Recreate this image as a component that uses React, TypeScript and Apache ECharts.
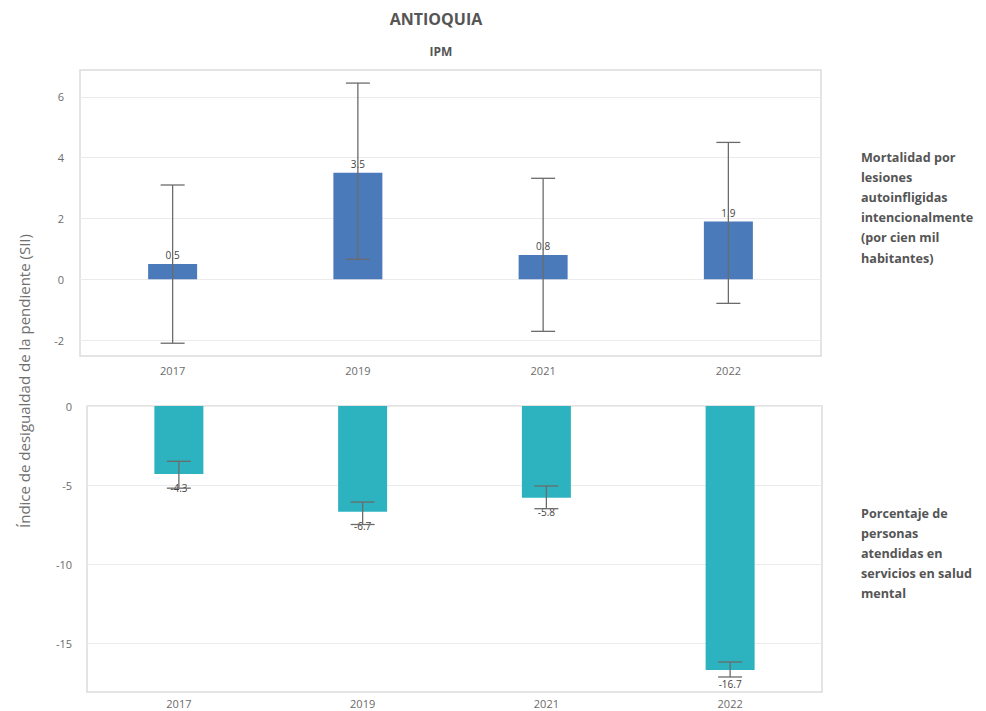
import React, { useEffect, useRef } from "react";
import * as echarts from "echarts";

const years = ["2017", "2019", "2021", "2022"];

const mortValues = [0.5, 3.5, 0.8, 1.9];
const mortLow = [-2.1, 0.66, -1.71, -0.79];
const mortHigh = [3.1, 6.45, 3.32, 4.5];

const saludValues = [-4.3, -6.7, -5.8, -16.7];
const saludLow = [-5.2, -7.5, -6.5, -17.15];
const saludHigh = [-3.5, -6.08, -5.06, -16.2];

const topTicks = [-2, 0, 2, 4, 6];
const bottomTicks = [-15, -10, -5, 0];

const title = "ANTIOQUIA";
const subtitle = "IPM";
const yTitle = "Índice de desigualdad de la pendiente (SII)";
const topLabel = "Mortalidad por\nlesiones\nautoinfligidas\nintencionalmente\n(por cien mil\nhabitantes)";
const bottomLabel = "Porcentaje de\npersonas\natendidas en\nservicios en salud\nmental";

const FONT = "'Open Sans', 'Noto Sans', sans-serif";

function errorSeries(idx: number, low: number[], high: number[]) {
  return {
    type: "custom",
    xAxisIndex: idx,
    yAxisIndex: idx,
    z: 10,
    data: years.map((_, i) => [i, low[i], high[i]]),
    renderItem: (params: any, api: any) => {
      const x = api.value(0);
      const lo = api.coord([x, api.value(1)]);
      const hi = api.coord([x, api.value(2)]);
      const hw = 12;
      const style = { stroke: "#6b6b6b", lineWidth: 1.3, fill: "none" };
      return {
        type: "group",
        children: [
          { type: "line", shape: { x1: lo[0], y1: lo[1], x2: hi[0], y2: hi[1] }, style },
          { type: "line", shape: { x1: lo[0] - hw, y1: lo[1], x2: lo[0] + hw, y2: lo[1] }, style },
          { type: "line", shape: { x1: hi[0] - hw, y1: hi[1], x2: hi[0] + hw, y2: hi[1] }, style },
        ],
      };
    },
  };
}

export default function App() {
  const ref = useRef<HTMLDivElement>(null);
  useEffect(() => {
    if (!ref.current) return;
    const chart = echarts.init(ref.current, null, { renderer: "svg" });
    const axisLabelStyle = { color: "#6b6b6b", fontSize: 11, fontFamily: FONT };
    const yCommon = (min: number, max: number, ticks: number[], margin: number) => ({
      type: "value",
      min,
      max,
      axisLine: { show: false },
      axisTick: { show: false, customValues: ticks },
      axisLabel: { ...axisLabelStyle, margin, customValues: ticks },
      splitLine: { show: true, lineStyle: { color: "#ebebeb", width: 1 } },
    });
    const xCommon = (gi: number, margin: number) => ({
      type: "category",
      gridIndex: gi,
      data: years,
      axisLine: { show: false },
      axisTick: { show: false },
      axisLabel: { ...axisLabelStyle, margin },
    });
    chart.setOption({
      animation: false,
      backgroundColor: "#ffffff",
      title: [
        {
          text: title,
          left: 431,
          top: 6,
          textAlign: "center",
          textStyle: { fontFamily: FONT, fontSize: 16, fontWeight: "bold", color: "#555555" },
        },
        {
          text: subtitle,
          left: 436,
          top: 40,
          textAlign: "center",
          textStyle: { fontFamily: FONT, fontSize: 12, fontWeight: "bold", color: "#555555" },
        },
      ],
      grid: [
        { left: 80, right: 165, top: 70, height: 286, show: true, borderColor: "#dcdcdc", borderWidth: 1.5 },
        { left: 87, right: 164, top: 406, height: 286, show: true, borderColor: "#dcdcdc", borderWidth: 1.5 },
      ],
      xAxis: [xCommon(0, 9), xCommon(1, 6)],
      yAxis: [
        { ...yCommon(-2.52, 6.88, topTicks, 16), gridIndex: 0 },
        { ...yCommon(-18.1, 0, bottomTicks, 15), gridIndex: 1 },
      ],
      graphic: [
        {
          type: "text",
          x: 24,
          y: 381,
          rotation: Math.PI / 2,
          style: {
            text: yTitle,
            fontFamily: FONT,
            fontSize: 15,
            fill: "#707070",
            align: "center",
            verticalAlign: "middle",
          },
        },
        {
          type: "text",
          x: 861,
          y: 147,
          style: {
            text: topLabel,
            fontFamily: FONT,
            fontSize: 12.6,
            fontWeight: "bold",
            fill: "#555555",
            lineHeight: 20.2,
          },
        },
        {
          type: "text",
          x: 861,
          y: 503,
          style: {
            text: bottomLabel,
            fontFamily: FONT,
            fontSize: 12.6,
            fontWeight: "bold",
            fill: "#555555",
            lineHeight: 20,
          },
        },
      ],
      series: [
        {
          type: "bar",
          xAxisIndex: 0,
          yAxisIndex: 0,
          data: mortValues,
          barWidth: 49,
          itemStyle: { color: "#4a7aba" },
          label: {
            show: true,
            position: "top",
            distance: 4,
            color: "#444444",
            fontSize: 10,
            fontFamily: FONT,
          },
        },
        {
          type: "bar",
          xAxisIndex: 1,
          yAxisIndex: 1,
          data: saludValues,
          barWidth: 49,
          itemStyle: { color: "#2cb3bf" },
          label: {
            show: true,
            position: "bottom",
            distance: 9,
            color: "#444444",
            fontSize: 10,
            fontFamily: FONT,
          },
        },
        errorSeries(0, mortLow, mortHigh),
        errorSeries(1, saludLow, saludHigh),
      ],
    });
    return () => chart.dispose();
  }, []);
  return (
    <div
      ref={ref}
      style={{ position: "fixed", left: 0, top: 0, width: 986, height: 711 }}
    />
  );
}
